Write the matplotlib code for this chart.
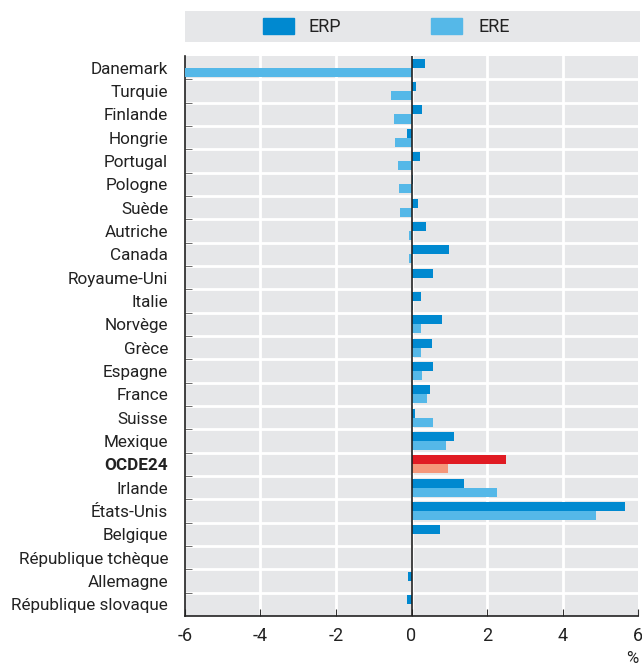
import matplotlib.pyplot as plt
import numpy as np

countries = ['Danemark', 'Turquie', 'Finlande', 'Hongrie', 'Portugal', 'Pologne',
             'Suède', 'Autriche', 'Canada', 'Royaume-Uni', 'Italie', 'Norvège',
             'Grèce', 'Espagne', 'France', 'Suisse', 'Mexique', 'OCDE24',
             'Irlande', 'États-Unis', 'Belgique', 'République tchèque',
             'Allemagne', 'République slovaque']
erp = [0.37, 0.13, 0.27, -0.13, 0.22, 0.05, 0.17, 0.38, 1.0, 0.56, 0.24, 0.8,
       0.53, 0.56, 0.48, 0.1, 1.12, 2.5, 1.38, 5.65, 0.75, 0.0, -0.09, -0.12]
ere = [-6.0, -0.55, -0.47, -0.45, -0.35, -0.32, -0.3, -0.06, -0.06, 0.02, 0.04,
       0.24, 0.24, 0.27, 0.4, 0.56, 0.9, 0.96, 2.26, 4.88, 0.0, 0.0, 0.0, 0.0]

plt.rcParams['font.family'] = ['Roboto', 'DejaVu Sans']
plt.rcParams['axes.unicode_minus'] = False

c_erp, c_ere = '#0089d0', '#55b8e8'
c_erp_hl, c_ere_hl = '#e01b23', '#f5977a'
txt = '#222222'

fig = plt.figure(figsize=(6.42, 6.68), dpi=100)
ax = fig.add_axes([0.288, 0.078, 0.706, 0.838])
ax.set_facecolor('#e6e7e9')

n = len(countries)
y = np.arange(n)
h = 0.39
cols_erp = [c_erp_hl if c == 'OCDE24' else c_erp for c in countries]
cols_ere = [c_ere_hl if c == 'OCDE24' else c_ere for c in countries]
ax.barh(y - h / 2, erp, height=h, color=cols_erp, zorder=3)
ax.barh(y + h / 2, ere, height=h, color=cols_ere, zorder=3)

ax.set_ylim(n - 0.5, -0.5)
ax.set_xlim(-6, 6)
ax.set_xticks(range(-6, 7, 2))
ax.set_yticks(y)
ax.set_yticklabels(countries, fontsize=12.3, color=txt)
for lbl in ax.get_yticklabels():
    if lbl.get_text() == 'OCDE24':
        lbl.set_fontweight('bold')
ax.tick_params(axis='y', length=0, pad=12)
ax.tick_params(axis='x', labelsize=13, length=5, direction='in', color='#333333',
               pad=8, labelcolor=txt)

# category separators and small ticks
for b in np.arange(0.5, n - 0.5, 1):
    ax.axhline(b, color='white', lw=2, zorder=1)
ax.set_yticks(np.arange(0.5, n - 0.5, 1), minor=True)
ax.tick_params(axis='y', which='minor', length=5, direction='in', color='#555555')
for xv in range(-4, 6, 2):
    ax.axvline(xv, color='white', lw=2, zorder=1)
ax.axvline(0, color='#222222', lw=1.2, zorder=4)

for s in ['top', 'right']:
    ax.spines[s].set_visible(False)
for s in ['left', 'bottom']:
    ax.spines[s].set_color('#222222')
    ax.spines[s].set_linewidth(1.2)

ax.text(1.0, -0.062, '%', transform=ax.transAxes, ha='right', va='top',
        fontsize=12, color=txt)

# legend band
lax = fig.add_axes([0.288, 0.937, 0.709, 0.046])
lax.set_facecolor('#e6e7e9')
lax.set_xlim(0, 1)
lax.set_ylim(0, 1)
lax.set_xticks([])
lax.set_yticks([])
for s in lax.spines.values():
    s.set_visible(False)
lax.add_patch(plt.Rectangle((0.171, 0.26), 0.068, 0.51, color=c_erp))
lax.text(0.2725, 0.5, 'ERP', va='center', ha='left', fontsize=13, color=txt)
lax.add_patch(plt.Rectangle((0.541, 0.26), 0.068, 0.51, color=c_ere))
lax.text(0.644, 0.5, 'ERE', va='center', ha='left', fontsize=13, color=txt)

fig.savefig('out.png', dpi=100)
